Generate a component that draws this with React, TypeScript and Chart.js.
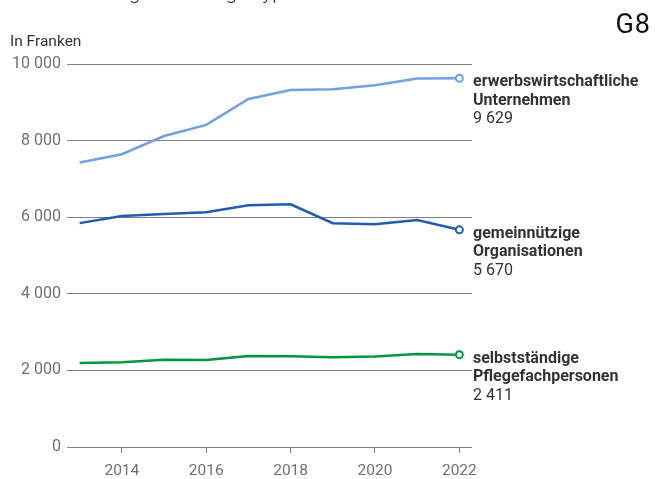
import { useEffect, useRef } from "react";
import { Chart, registerables } from "chart.js";

Chart.register(...registerables);

// Years on the x axis
const years = [2013, 2014, 2015, 2016, 2017, 2018, 2019, 2020, 2021, 2022];
const yearTicks = [2014, 2016, 2018, 2020, 2022];

// Values in Franken per owner type
const erwerbswirtschaftlich = [7430, 7645, 8120, 8410, 9085, 9320, 9342, 9448, 9622, 9629];
const gemeinnuetzig = [5845, 6030, 6085, 6128, 6310, 6335, 5845, 5818, 5927, 5670];
const selbststaendig = [2195, 2210, 2280, 2273, 2376, 2367, 2345, 2365, 2425, 2411];

// Series names as shown next to the line ends
const seriesLabels = [
  ["erwerbswirtschaftliche", "Unternehmen"],
  ["gemeinnützige", "Organisationen"],
  ["selbstständige", "Pflegefachpersonen"],
];
const seriesColors = ["#72a1e2", "#1f5db0", "#00963f"];
const seriesValues = [erwerbswirtschaftlich, gemeinnuetzig, selbststaendig];

const titleText = "Entwicklung nach Trägertyp";
const chartId = "G8";
const unitText = "In Franken";

const FONT = "Roboto, 'Noto Sans', sans-serif";

const fmt = (n: number) => String(Math.round(n)).replace(/\B(?=(\d{3})+(?!\d))/g, " ");

const textPlugin = {
  id: "chartTexts",
  afterDraw(chart: any) {
    const ctx: CanvasRenderingContext2D = chart.ctx;
    const area = chart.chartArea;
    ctx.save();

    // Title line (sits at the very top edge)
    ctx.fillStyle = "#333333";
    ctx.textAlign = "left";
    ctx.textBaseline = "alphabetic";
    ctx.font = `300 21px ${FONT}`;
    ctx.fillText(titleText, 29, -1);

    // Chart number
    ctx.fillStyle = "#111111";
    ctx.font = `400 27px ${FONT}`;
    ctx.textAlign = "right";
    (ctx as any).letterSpacing = "1px";
    ctx.fillText(chartId, 651, 33);
    (ctx as any).letterSpacing = "0px";

    // Unit
    ctx.fillStyle = "#333333";
    ctx.textAlign = "left";
    ctx.font = `400 15.5px ${FONT}`;
    ctx.fillText(unitText, 10, 46);

    // End labels next to the last point of each line
    chart.data.datasets.forEach((ds: any, i: number) => {
      const meta = chart.getDatasetMeta(i);
      const pt = meta.data[meta.data.length - 1];
      const x = area.right + 1;
      let y = pt.y + 4;
      ctx.textBaseline = "middle";
      ctx.fillStyle = "#333333";
      ctx.font = `700 16px ${FONT}`;
      seriesLabels[i].forEach((line) => {
        ctx.fillText(line, x, y);
        y += 18.5;
      });
      ctx.font = `400 16px ${FONT}`;
      ctx.fillText(fmt(ds.data[ds.data.length - 1].y), x, y);
    });

    ctx.restore();
  },
};

export default function App() {
  const canvasRef = useRef<HTMLCanvasElement | null>(null);

  useEffect(() => {
    if (!canvasRef.current) return;
    const last = years.length - 1;
    const chart = new Chart(canvasRef.current, {
      type: "line",
      data: {
        datasets: seriesValues.map((vals, i) => ({
          label: seriesLabels[i].join(" "),
          data: years.map((yr, k) => ({ x: yr, y: vals[k] })),
          borderColor: seriesColors[i],
          borderWidth: 2.5,
          tension: 0,
          pointRadius: years.map((_, k) => (k === last ? 3.5 : 0)),
          pointHoverRadius: 0,
          pointBackgroundColor: "#ffffff",
          pointBorderColor: seriesColors[i],
          pointBorderWidth: 2,
        })),
      },
      options: {
        responsive: false,
        animation: false,
        events: [],
        layout: { padding: { top: 64, right: 183, left: 0, bottom: 0 } },
        plugins: {
          legend: { display: false },
          tooltip: { enabled: false },
          title: { display: false },
        },
        scales: {
          x: {
            type: "linear",
            min: 2012.7,
            max: 2022.3,
            afterBuildTicks: (scale: any) => {
              scale.ticks = yearTicks.map((v) => ({ value: v }));
            },
            afterFit: (scale: any) => {
              scale.height = 32;
            },
            border: { display: false },
            grid: {
              drawOnChartArea: false,
              drawTicks: true,
              tickLength: 6,
              color: "#808080",
              lineWidth: 1,
            },
            ticks: {
              autoSkip: false,
              maxRotation: 0,
              padding: 9,
              color: "#707070",
              font: { family: FONT, size: 15.5 },
              callback: (v: any) => String(v),
            },
          },
          y: {
            min: 0,
            max: 10000,
            afterFit: (scale: any) => {
              scale.width = 67;
            },
            border: { display: false },
            grid: {
              drawTicks: false,
              color: "#808080",
              lineWidth: 1,
            },
            ticks: {
              stepSize: 2000,
              padding: 6,
              color: "#707070",
              font: { family: FONT, size: 16 },
              callback: (v: any) => fmt(Number(v)),
            },
          },
        },
      },
      plugins: [textPlugin],
    });
    return () => chart.destroy();
  }, []);

  return (
    <div style={{ position: "absolute", left: 0, top: 0, width: 655, height: 479, background: "#ffffff" }}>
      <canvas ref={canvasRef} width={655} height={479} style={{ display: "block" }} />
    </div>
  );
}
